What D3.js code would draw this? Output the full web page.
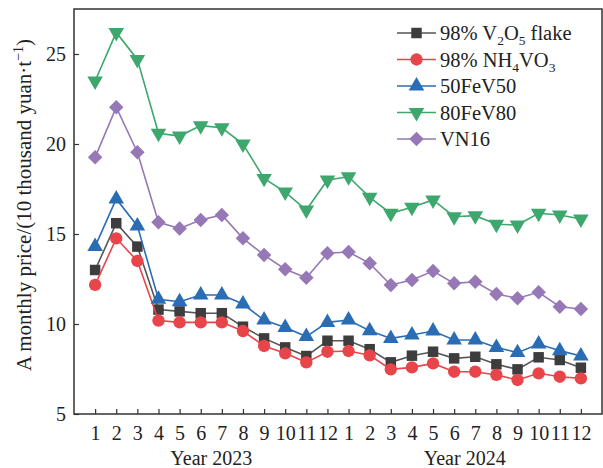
<!DOCTYPE html>
<html>
<head>
<meta charset="utf-8">
<script src="https://cdn.jsdelivr.net/npm/d3@7"></script>
<style>
  body { margin: 0; background: #fff; }
  text { font-family: "Liberation Serif", "Times New Roman", serif; fill: #222; }
</style>
</head>
<body>
<div id="chart"></div>
<script>
// month index 1..24 (Jan 2023 .. Dec 2024)
var months = d3.range(1, 25)
var tickLabels = [1,2,3,4,5,6,7,8,9,10,11,12,1,2,3,4,5,6,7,8,9,10,11,12]
var yTicks = [5, 10, 15, 20, 25]

var v2o5 = [13.0, 15.6, 14.3, 10.8, 10.7, 10.6, 10.6, 9.85, 9.2, 8.7, 8.22, 9.07,
            9.07, 8.6, 7.87, 8.24, 8.46, 8.09, 8.18, 7.76, 7.48, 8.15, 8.0, 7.57]
var nh4vo3 = [12.17, 14.76, 13.5, 10.19, 10.09, 10.09, 10.09, 9.61, 8.78, 8.37, 7.87, 8.46,
              8.5, 8.26, 7.48, 7.59, 7.81, 7.35, 7.35, 7.17, 6.89, 7.26, 7.07, 6.98]
var fev50 = [14.3, 16.95, 15.45, 11.37, 11.24, 11.61, 11.61, 11.11, 10.22, 9.81, 9.3, 10.09,
             10.22, 9.63, 9.2, 9.39, 9.61, 9.11, 9.11, 8.7, 8.41, 8.89, 8.52, 8.22]
var fev80 = [23.5, 26.2, 24.7, 20.6, 20.44, 21.02, 20.9, 20.0, 18.09, 17.33, 16.33, 18.0,
             18.18, 17.04, 16.15, 16.48, 16.89, 15.96, 16.02, 15.54, 15.5, 16.15, 16.06, 15.83]
var vn16 = [19.26, 22.04, 19.54, 15.65, 15.31, 15.78, 16.06, 14.76, 13.83, 13.04, 12.57, 13.93,
            14.0, 13.37, 12.17, 12.44, 12.94, 12.26, 12.35, 11.67, 11.43, 11.76, 10.96, 10.83]

var series = [
  {name: "v2o5", values: v2o5, color: "#3d3d3d", line: "#555", symbol: d3.symbolSquare, size: 110, rotate: 0},
  {name: "nh4vo3", values: nh4vo3, color: "#e8454b", line: "#e8454b", symbol: d3.symbolCircle, size: 120, rotate: 0},
  {name: "fev50", values: fev50, color: "#2a6db5", line: "#2a6db5", symbol: d3.symbolTriangle, size: 105, rotate: 0},
  {name: "fev80", values: fev80, color: "#3ea76d", line: "#3ea76d", symbol: d3.symbolTriangle, size: 105, rotate: 180},
  {name: "vn16", values: vn16, color: "#9678b6", line: "#9678b6", symbol: d3.symbolSquare, size: 105, rotate: 45}
]

var margin = {top: 9, left: 74, right: 1, bottom: 54},
    width = 603 - margin.left - margin.right,
    height = 468 - margin.top - margin.bottom

var svg = d3.select("#chart").append("svg")
    .attr("width", 603)
    .attr("height", 468)
var g = svg.append("g")
    .attr("transform", "translate(" + margin.left + "," + margin.top + ")")

var x = d3.scaleLinear().domain([0, 25]).range([0, width])
var y = d3.scaleLinear().domain([5, 27.5]).range([height, 0])

// frame
g.append("rect")
  .attr("width", width).attr("height", height)
  .attr("fill", "none").attr("stroke", "#333").attr("stroke-width", 1.5)

// axes with inward ticks
var xAxis = g.append("g")
  .attr("transform", "translate(0," + height + ")")
  .call(d3.axisBottom(x).tickValues(months).tickSize(-5).tickPadding(12)
    .tickFormat(function(d) { return tickLabels[d - 1] }))
var yAxis = g.append("g")
  .call(d3.axisLeft(y).tickValues(yTicks).tickSize(-5).tickPadding(8))
;[xAxis, yAxis].forEach(function(a) {
  a.select(".domain").remove()
  a.selectAll("line").attr("stroke", "#333").attr("stroke-width", 1.2)
  a.selectAll("text").attr("font-size", 20).attr("fill", "#222")
    .attr("font-family", "Liberation Serif, Times New Roman, serif")
})

g.append("text").attr("x", x(6.5)).attr("y", height + 51)
  .attr("text-anchor", "middle").attr("font-size", 20).text("Year 2023")
g.append("text").attr("x", x(18.5)).attr("y", height + 51)
  .attr("text-anchor", "middle").attr("font-size", 20).text("Year 2024")

var yl = svg.append("text")
  .attr("transform", "translate(31,205) rotate(-90)")
  .attr("text-anchor", "middle").attr("font-size", 21)
yl.append("tspan").text("A monthly price/(10 thousand yuan\u00b7t")
yl.append("tspan").attr("font-size", 14).attr("dy", -8).text("\u22121")
yl.append("tspan").attr("dy", 8).text(")")

var line = d3.line()
  .x(function(d, i) { return x(months[i]) })
  .y(function(d) { return y(d) })

series.forEach(function(s) {
  g.append("path").datum(s.values)
    .attr("d", line).attr("fill", "none")
    .attr("stroke", s.line).attr("stroke-width", 1.6)
  g.selectAll(".pt-" + s.name).data(s.values).enter().append("path")
    .attr("class", "pt-" + s.name)
    .attr("d", d3.symbol().type(s.symbol).size(s.size))
    .attr("transform", function(d, i) {
      return "translate(" + x(months[i]) + "," + y(d) + ") rotate(" + s.rotate + ")"
    })
    .attr("fill", s.color)
})

// legend
var legendLabels = [
  [["98% V", 0], ["2", 1], ["O", 0], ["5", 1], [" flake", 0]],
  [["98% NH", 0], ["4", 1], ["VO", 0], ["3", 1]],
  [["50FeV50", 0]],
  [["80FeV80", 0]],
  [["VN16", 0]]
]
var leg = svg.append("g").attr("transform", "translate(397,33)")
series.forEach(function(s, i) {
  var row = leg.append("g").attr("transform", "translate(0," + (i * 26.5) + ")")
  row.append("line").attr("x1", 0).attr("x2", 39)
    .attr("stroke", s.line).attr("stroke-width", 1.6)
  row.append("path")
    .attr("d", d3.symbol().type(s.symbol).size(s.size))
    .attr("transform", "translate(19.5,0) rotate(" + s.rotate + ")")
    .attr("fill", s.color)
  var t = row.append("text").attr("x", 43).attr("y", 7).attr("font-size", 20.5)
  var shifted = false
  legendLabels[i].forEach(function(p) {
    var ts = t.append("tspan").text(p[0])
    if (p[1] && !shifted) { ts.attr("font-size", 13.5).attr("dy", 5); shifted = true }
    else if (!p[1] && shifted) { ts.attr("dy", -5); shifted = false }
    else if (p[1]) ts.attr("font-size", 13.5)
  })
})
</script>
</body>
</html>
